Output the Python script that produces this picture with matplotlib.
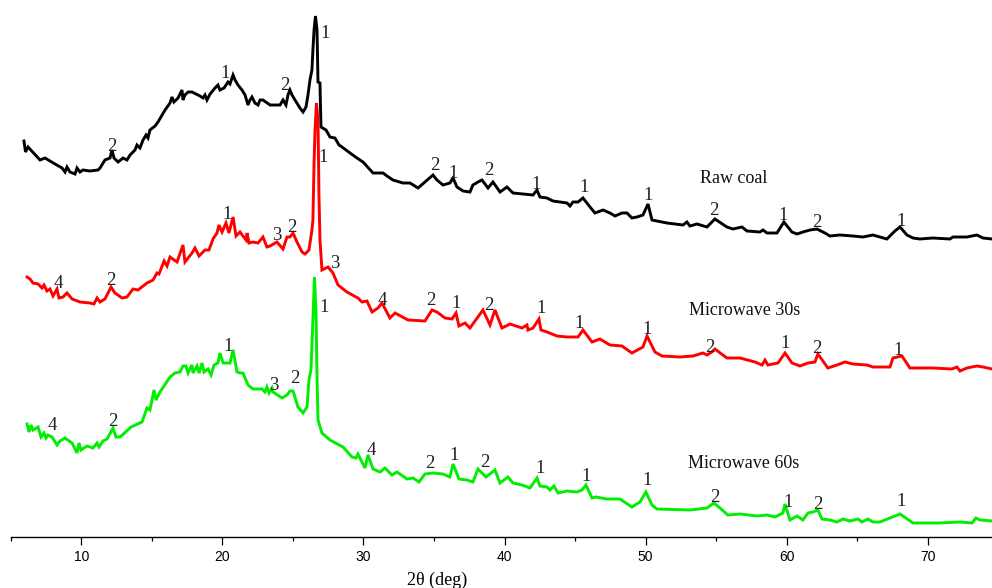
import numpy as np
import matplotlib
matplotlib.use("Agg")
import matplotlib.pyplot as plt
from matplotlib.ticker import MultipleLocator

# XRD patterns, 2theta (deg) vs. intensity (a.u., own baseline)
raw_tt = [5.94, 6.05, 6.23, 7.08, 7.43, 8.14, 8.64, 8.85, 8.99, 9.20, 9.56, 9.70, 9.91, 10.12,
          10.62, 11.19, 11.33, 11.68, 12.04, 12.18, 12.32, 12.61, 12.96, 13.24, 13.46, 13.81,
          13.95, 14.16, 14.38, 14.59, 14.73, 14.87, 15.23, 15.44, 15.94, 16.29, 16.43, 16.57,
          16.86, 17.14, 17.21, 17.35, 17.57, 17.85, 18.42, 18.63, 18.77, 18.91, 19.13, 19.48,
          19.69, 19.83, 20.12, 20.40, 20.54, 20.76, 20.90, 21.11, 21.39, 21.61, 21.82, 21.96,
          22.10, 22.31, 22.53, 22.67, 22.88, 23.38, 24.09, 24.30, 24.51, 24.65, 24.79, 24.94,
          25.15, 25.50, 25.72, 25.93, 26.07, 26.21, 26.35, 26.42, 26.50, 26.60, 26.71, 26.78,
          26.92, 26.99, 27.35, 27.63, 27.98, 28.27, 28.48, 29.05, 29.54, 29.97, 30.68, 31.39,
          31.67, 32.09, 32.80, 33.30, 33.87, 34.36, 34.93, 35.21, 35.64, 36.13, 36.35, 36.63,
          37.06, 37.55, 37.76, 38.12, 38.40, 38.83, 39.18, 39.68, 40.17, 40.60, 42.02, 42.30,
          42.51, 43.01, 43.43, 44.43, 44.64, 44.85, 45.21, 45.56, 46.06, 46.41, 46.98, 47.47,
          47.83, 48.32, 48.68, 49.03, 49.39, 49.81, 50.17, 50.45, 51.51, 52.65, 52.93, 53.14,
          53.64, 54.35, 54.91, 55.76, 56.19, 56.83, 57.18, 58.10, 58.32, 58.60, 59.31, 59.80,
          60.37, 60.73, 61.15, 61.65, 62.14, 62.71, 63.06, 63.77, 64.69, 65.40, 66.11, 67.10,
          67.67, 68.03, 68.52, 68.95, 69.44, 70.36, 71.57, 71.78, 72.77, 73.48, 73.91, 74.55]
raw_int = [116, 105, 110, 97, 99, 93, 89, 85, 90, 85, 83, 89, 85, 87,
           86, 87, 89, 97, 99, 107, 99, 95, 99, 97, 102, 107,
           112, 109, 117, 122, 119, 127, 131, 135, 147, 154, 160, 155,
           159, 167, 157, 162, 165, 165, 161, 159, 162, 157, 163, 169,
           172, 167, 169, 175, 173, 182, 177, 172, 167, 162, 152, 157,
           160, 154, 152, 157, 157, 152, 152, 157, 152, 162, 167, 162,
           157, 149, 145, 150, 162, 177, 187, 207, 227, 241, 227, 175,
           174, 130, 127, 120, 119, 112, 110, 104, 99, 95, 84, 84,
           81, 77, 74, 74, 69, 75, 82, 77, 72, 74, 79, 70,
           66, 65, 72, 75, 77, 69, 75, 65, 70, 64, 62, 67,
           60, 59, 56, 54, 51, 55, 55, 59, 50, 44, 47, 44,
           41, 44, 44, 39, 40, 42, 53, 37, 34, 32, 35, 31,
           33, 30, 38, 30, 28, 30, 26, 25, 27, 24, 24, 35,
           25, 23, 25, 27, 28, 24, 21, 22, 21, 20, 22, 18,
           26, 30, 22, 19, 18, 19, 18, 20, 20, 22, 19, 18]

mw30_tt = [6.16, 6.37, 6.58, 6.94, 7.22, 7.36, 7.57, 7.79, 8.00, 8.28, 8.42, 8.71, 8.99, 9.35,
           9.91, 10.62, 10.90, 11.12, 11.33, 11.68, 12.11, 12.39, 12.89, 13.24, 13.67, 14.02,
           14.66, 15.09, 15.37, 15.51, 15.87, 16.08, 16.29, 16.79, 17.21, 17.35, 17.85, 18.06,
           18.35, 18.77, 19.05, 19.34, 19.62, 19.76, 19.98, 20.26, 20.47, 20.76, 20.97, 21.25,
           21.68, 21.75, 21.89, 22.17, 22.53, 22.88, 23.16, 23.38, 23.87, 24.30, 24.58, 24.79,
           25.01, 25.29, 25.65, 25.86, 26.14, 26.35, 26.42, 26.50, 26.57, 26.67, 26.78, 26.85,
           26.92, 27.06, 27.49, 27.84, 28.20, 28.83, 29.61, 29.90, 30.25, 30.61, 31.03, 31.31,
           31.88, 32.24, 33.16, 34.36, 34.86, 35.21, 35.78, 36.28, 36.56, 36.77, 37.20, 37.55,
           38.47, 38.97, 39.32, 39.82, 40.39, 41.24, 41.59, 41.66, 42.02, 42.44, 42.58, 43.01,
           43.72, 44.43, 45.21, 45.56, 46.20, 46.76, 47.47, 48.32, 49.03, 49.81, 50.10, 50.66,
           51.16, 52.43, 53.36, 54.06, 54.35, 54.70, 54.91, 55.76, 56.69, 57.75, 58.25, 58.46,
           58.67, 59.38, 59.88, 60.37, 60.94, 61.51, 62.00, 62.21, 62.92, 63.56, 64.13, 64.69,
           65.69, 66.11, 67.32, 67.53, 68.17, 68.73, 70.36, 71.71, 72.06, 72.28, 72.77, 73.48,
           73.91, 74.55]
mw30_int = [110, 108, 104, 103, 99, 102, 96, 98, 91, 98, 89, 90, 94, 88,
            85, 84, 83, 89, 85, 88, 100, 94, 89, 90, 98, 97,
            104, 107, 114, 113, 126, 121, 130, 125, 142, 125, 134, 139,
            131, 137, 137, 148, 154, 162, 155, 164, 154, 170, 151, 155,
            147, 154, 144, 145, 144, 150, 140, 141, 145, 138, 150, 150,
            154, 145, 135, 133, 137, 157, 167, 224, 257, 284, 267, 190,
            147, 117, 120, 114, 102, 95, 89, 85, 86, 75, 79, 84,
            69, 74, 67, 66, 77, 75, 69, 68, 74, 61, 64, 59,
            77, 62, 77, 59, 63, 59, 62, 57, 59, 68, 57, 55,
            51, 50, 50, 57, 45, 48, 42, 41, 34, 40, 51, 35,
            31, 30, 31, 34, 32, 35, 38, 29, 29, 25, 22, 27,
            22, 24, 34, 24, 21, 24, 25, 33, 19, 22, 25, 23,
            22, 20, 20, 29, 31, 19, 19, 18, 20, 16, 19, 21,
            20, 18]

mw60_tt = [6.16, 6.30, 6.44, 6.58, 6.94, 7.15, 7.36, 7.50, 7.64, 7.93, 8.28, 8.49, 8.85, 9.35,
           9.70, 9.84, 9.98, 10.41, 10.83, 11.12, 11.26, 11.54, 11.83, 12.25, 12.46, 12.75,
           13.53, 14.31, 14.66, 14.87, 15.16, 15.30, 15.58, 16.29, 16.64, 17.00, 17.21, 17.42,
           17.57, 17.85, 17.92, 18.20, 18.35, 18.56, 18.70, 18.98, 19.20, 19.41, 19.69, 19.83,
           20.05, 20.54, 20.76, 21.04, 21.25, 21.46, 21.82, 22.17, 22.81, 23.02, 23.16, 23.31,
           23.52, 23.59, 24.23, 24.58, 24.79, 25.01, 25.36, 25.72, 26.00, 26.14, 26.28, 26.42,
           26.53, 26.64, 26.71, 26.78, 27.06, 27.63, 28.55, 29.19, 29.47, 29.61, 30.11, 30.32,
           30.68, 31.17, 31.53, 32.02, 32.38, 33.09, 33.51, 33.94, 34.36, 34.93, 35.64, 36.13,
           36.35, 36.77, 37.34, 37.76, 38.12, 38.69, 39.32, 39.68, 40.24, 40.60, 41.24, 41.80,
           42.30, 42.51, 43.01, 43.22, 43.50, 43.79, 44.43, 45.13, 45.49, 45.77, 46.20, 46.48,
           47.26, 48.18, 49.03, 49.60, 50.02, 50.45, 50.80, 53.14, 54.35, 54.84, 55.27, 55.83,
           56.69, 57.89, 58.60, 59.17, 59.73, 59.88, 60.23, 60.73, 61.15, 61.51, 61.86, 62.21,
           62.50, 63.06, 63.56, 63.99, 64.48, 65.05, 65.33, 65.76, 66.11, 66.61, 67.32, 68.03,
           68.95, 70.86, 72.28, 73.13, 73.41, 73.70, 74.55]
mw60_int = [113, 105, 112, 107, 110, 100, 104, 99, 102, 100, 92, 96, 99, 94,
            84, 94, 87, 91, 89, 94, 90, 96, 98, 109, 100, 100,
            110, 115, 129, 127, 147, 137, 145, 160, 164, 165, 171, 171,
            164, 172, 164, 171, 164, 174, 165, 168, 162, 172, 174, 184,
            174, 174, 187, 165, 164, 164, 152, 148, 148, 145, 150, 144,
            149, 145, 139, 142, 146, 146, 130, 124, 130, 157, 167, 217,
            260, 224, 160, 117, 104, 97, 90, 80, 79, 83, 69, 82,
            68, 65, 69, 62, 65, 58, 59, 55, 63, 64, 63, 60,
            73, 58, 57, 55, 68, 60, 67, 54, 60, 54, 52, 49,
            59, 51, 50, 47, 51, 44, 46, 45, 47, 52, 39, 40,
            38, 38, 30, 35, 45, 32, 28, 27, 29, 34, 29, 22,
            23, 21, 22, 20, 24, 33, 17, 21, 17, 24, 25, 27,
            18, 17, 15, 18, 16, 18, 15, 18, 15, 15, 19, 23,
            14, 14, 15, 14, 19, 17, 16]

offsets = {"Raw coal": 280, "Microwave 30s": 150, "Microwave 60s": 0}
colors = {"Raw coal": "black", "Microwave 30s": "#ff0000", "Microwave 60s": "#00ee00"}

# phase markers: (2theta, height above own baseline, phase no.)
raw_marks = [(27.27, 219, "1"), (20.19, 179, "1"), (24.44, 167, "2"), (12.18, 106, "2"),
             (35.07, 87, "2"), (36.35, 79, "1"), (38.90, 82, "2"), (42.23, 68, "1"),
             (45.63, 65, "1"), (50.17, 57, "1"), (54.84, 42, "2"), (59.73, 37, "1"),
             (62.14, 30, "2"), (68.10, 31, "1")]
mw30_marks = [(27.13, 225, "1"), (20.33, 168, "1"), (23.87, 147, "3"), (24.94, 155, "2"),
              (8.35, 99, "4"), (12.11, 102, "2"), (27.98, 119, "3"), (31.31, 82, "4"),
              (34.79, 82, "2"), (36.56, 79, "1"), (38.90, 77, "2"), (42.58, 74, "1"),
              (45.28, 59, "1"), (50.10, 53, "1"), (54.56, 35, "2"), (59.88, 39, "1"),
              (62.14, 34, "2"), (67.88, 32, "1")]
mw60_marks = [(27.20, 225, "1"), (20.40, 186, "1"), (23.66, 147, "3"), (25.15, 154, "2"),
              (7.93, 107, "4"), (12.25, 111, "2"), (30.53, 82, "4"), (34.72, 69, "2"),
              (36.42, 77, "1"), (38.61, 70, "2"), (42.51, 64, "1"), (45.77, 56, "1"),
              (50.10, 52, "1"), (54.91, 35, "2"), (60.09, 30, "1"), (62.21, 28, "2"),
              (68.10, 31, "1")]

# sample names: (2theta centre, height above own baseline)
name_pos = {"Raw coal": (56.26, 74), "Microwave 30s": (57.04, 72), "Microwave 60s": (56.93, 69)}

serif = ["Liberation Serif", "DejaVu Serif"]

fig = plt.figure(figsize=(9.92, 5.88), dpi=100)
ax = fig.add_axes([10.7 / 992, 51 / 588, 1 - 10.7 / 992, 537 / 588])

series = [("Raw coal", raw_tt, raw_int, raw_marks),
          ("Microwave 30s", mw30_tt, mw30_int, mw30_marks),
          ("Microwave 60s", mw60_tt, mw60_int, mw60_marks)]

for name, tt, inten, marks in series:
    off = offsets[name]
    ax.plot(tt, np.array(inten) + off, color=colors[name], lw=2.1, solid_joinstyle="miter")
    for x, h, s in marks:
        ax.text(x, h + off, s, ha="center", va="baseline", fontsize=13.5,
                family=serif, color="#222222")
    nx, nh = name_pos[name]
    ax.text(nx, nh + off, name, ha="center", va="baseline", fontsize=13,
            family=serif, color="#111111")

ax.set_xlim(5, 74.55)
ax.set_ylim(0, 537)

for side in ["left", "right", "top"]:
    ax.spines[side].set_visible(False)
ax.spines["bottom"].set_linewidth(1.0)
ax.set_yticks([])

ax.xaxis.set_major_locator(MultipleLocator(10))
ax.xaxis.set_minor_locator(MultipleLocator(5))
ax.set_xticks([10, 20, 30, 40, 50, 60, 70])
ax.tick_params(axis="x", which="major", direction="out", length=5.5, width=0.9,
               labelsize=10, pad=4)
ax.tick_params(axis="x", which="minor", direction="out", length=3, width=0.9)
for lab in ax.get_xticklabels():
    lab.set_family(["Liberation Sans", "DejaVu Sans"])

fig.text(437 / 992, 3 / 588, "2\u03b8 (deg)", ha="center", va="baseline",
         fontsize=13, family=serif)

fig.savefig("out.png", dpi=100)
